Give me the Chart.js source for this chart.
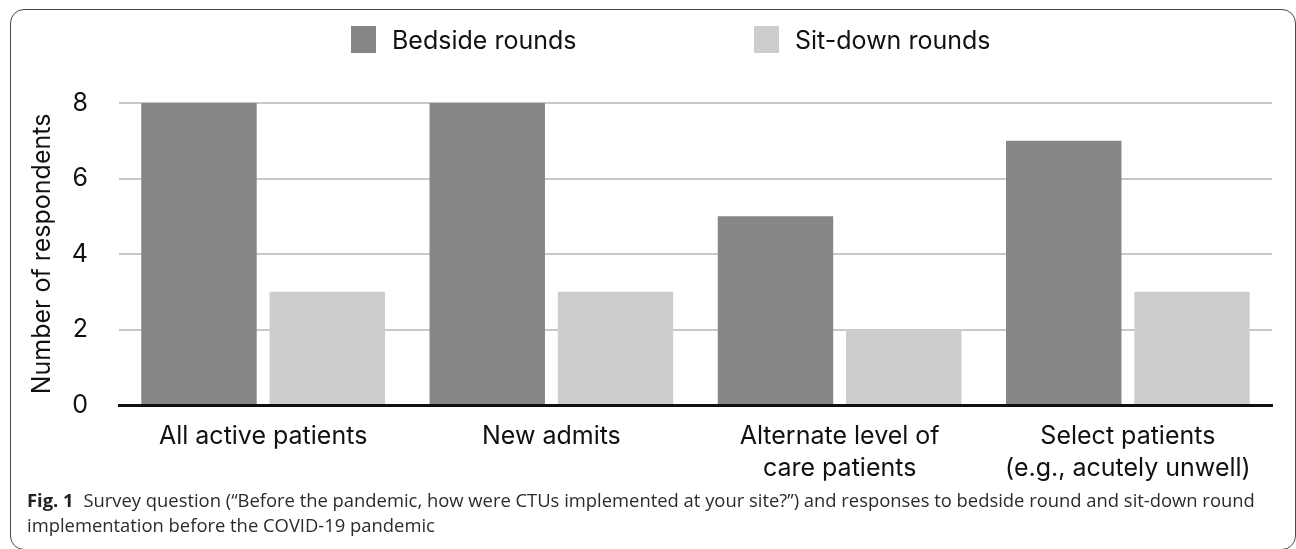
<!DOCTYPE html>
<html>
<head>
<meta charset="utf-8">
<title>Rounds implementation before the COVID-19 pandemic</title>
<script src="https://cdn.jsdelivr.net/npm/chart.js@4.4.1/dist/chart.umd.min.js"></script>
<style>
  html, body { margin: 0; padding: 0; background: #fff; }
  body { position: relative; width: 1296px; height: 549px; overflow: hidden; }
  #frame {
    position: absolute; left: 10px; top: 9px; width: 1286px; height: 541px;
    box-sizing: border-box; border: 1.5px solid #4a4a4a; border-radius: 14px;
  }
  #wrap { position: absolute; left: 0; top: 0; width: 1296px; height: 490px; }
  #legend {
    position: absolute; left: 351px; top: 26px; display: flex;
    font-family: Inter, "Liberation Sans", sans-serif; font-size: 25px; color: #111;
  }
  #legend .item { display: flex; align-items: center; height: 27px; white-space: nowrap; }
  #legend .item:first-child { width: 403px; }
  #legend .swatch { width: 25px; height: 27px; margin-right: 16px; flex: none; }
  #caption {
    position: absolute; left: 27px; top: 487px; width: 1260px;
    font-family: "Open Sans", sans-serif; font-size: 18.4px; line-height: 25px; color: #2b2b2b;
    white-space: nowrap;
  }
  #caption b { color: #222; margin-right: 5px; }
</style>
</head>
<body>
<div id="frame"></div>
<div id="wrap"><canvas id="chart"></canvas></div>
<div id="legend"></div>
<div id="caption">
  <b>Fig. 1</b> Survey question (“Before the pandemic, how were CTUs implemented at your site?”) and responses to bedside round and sit-down round<br>
  implementation before the COVID-19 pandemic
</div>
<script>
// Survey categories (multi-line labels are arrays of lines)
const categories = [
  ["All active patients"],
  ["New admits"],
  ["Alternate level of", "care patients"],
  ["Select patients", "(e.g., acutely unwell)"]
];
const seriesNames = ["Bedside rounds", "Sit-down rounds"];
const bedsideRounds = [8, 8, 5, 7];
const sitDownRounds = [3, 3, 2, 3];
const yAxisTitle = "Number of respondents";

const FONT = 'Inter, "Liberation Sans", sans-serif';
const DARK = '#868686';
const LIGHT = '#cdcdcd';

// Legend rendered as HTML from the chart's datasets
const htmlLegend = {
  id: 'htmlLegend',
  afterUpdate(chart) {
    const box = document.getElementById('legend');
    box.innerHTML = '';
    chart.data.datasets.forEach(ds => {
      const item = document.createElement('div');
      item.className = 'item';
      const sw = document.createElement('span');
      sw.className = 'swatch';
      sw.style.background = ds.backgroundColor;
      const txt = document.createElement('span');
      txt.textContent = ds.label;
      item.appendChild(sw);
      item.appendChild(txt);
      box.appendChild(item);
    });
  }
};

new Chart(document.getElementById('chart'), {
  type: 'bar',
  data: {
    labels: categories,
    datasets: [
      { label: seriesNames[0], data: bedsideRounds, backgroundColor: DARK },
      { label: seriesNames[1], data: sitDownRounds, backgroundColor: LIGHT }
    ]
  },
  options: {
    responsive: true,
    maintainAspectRatio: false,
    animation: false,
    datasets: { bar: { categoryPercentage: 0.89, barPercentage: 0.9 } },
    layout: { padding: { left: 0, right: 24, top: 103, bottom: 0 } },
    plugins: {
      legend: { display: false },
      tooltip: { enabled: false }
    },
    scales: {
      x: {
        grid: { display: false, drawTicks: false },
        border: { display: true, color: '#111', width: 3 },
        ticks: { color: '#111', padding: 15, font: { family: FONT, size: 25, lineHeight: 1.3 } },
        afterFit(scale) { scale.height = 85; }
      },
      y: {
        min: 0, max: 8,
        grid: {
          drawTicks: false,
          lineWidth: 2,
          color: ctx => (ctx.tick && ctx.tick.value === 0) ? 'rgba(0,0,0,0)' : '#c8c8c8'
        },
        border: { display: false },
        ticks: { stepSize: 2, color: '#111', padding: 31, font: { family: FONT, size: 25 } },
        title: {
          display: true, text: yAxisTitle, color: '#111',
          font: { family: FONT, size: 25, lineHeight: 1.2 },
          padding: { top: 27, bottom: 0 }
        },
        afterFit(scale) { scale.width = 119; }
      }
    }
  },
  plugins: [htmlLegend]
});
</script>
</body>
</html>
